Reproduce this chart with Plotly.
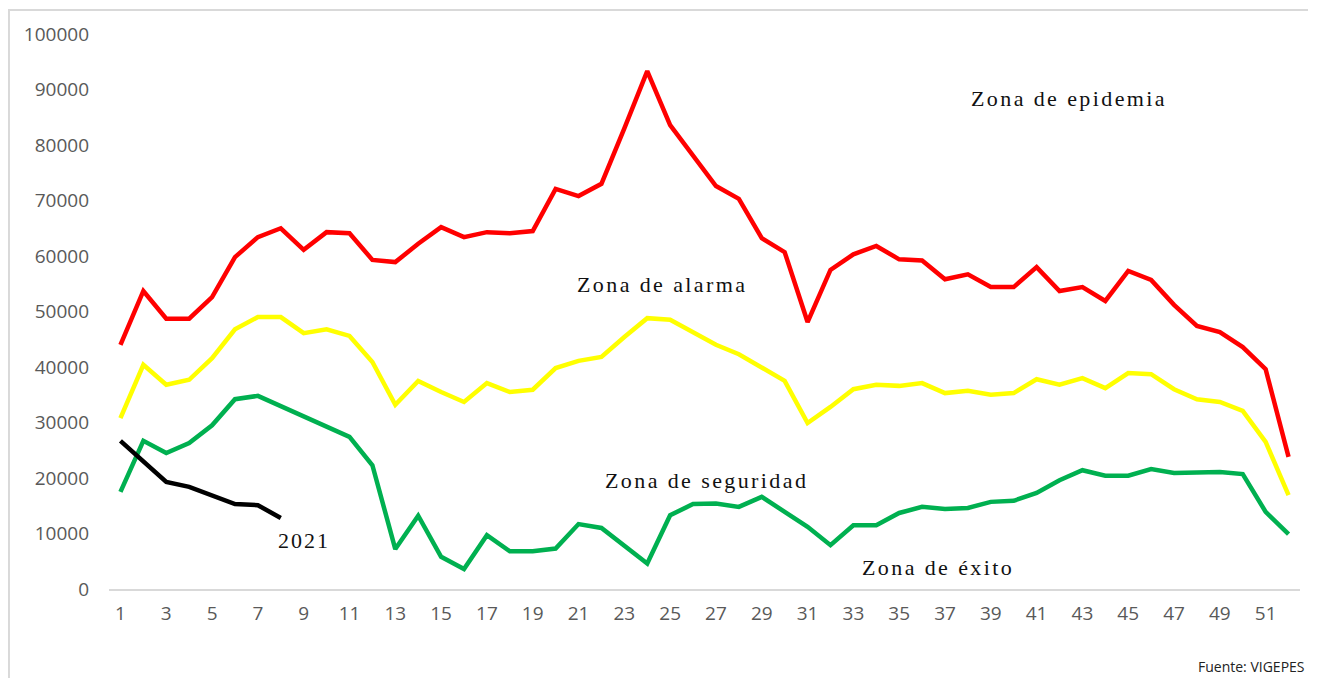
import plotly.graph_objects as go

weeks = list(range(1, 53))

epidemia = [44000, 53700, 48700, 48700, 52600, 59800, 63400, 65000, 61100, 64300,
            64100, 59300, 58900, 62200, 65200, 63400, 64300, 64100, 64500, 72100,
            70800, 73000, 83000, 93300, 83600, 78200, 72600, 70300, 63200, 60700,
            48100, 57500, 60300, 61800, 59400, 59200, 55800, 56700, 54400, 54400,
            58000, 53700, 54400, 51900, 57300, 55700, 51200, 47400, 46300, 43600,
            39600, 23800]

alarma = [30800, 40400, 36800, 37700, 41600, 46800, 49000, 49000, 46100, 46800,
          45600, 40900, 33200, 37500, 35500, 33700, 37100, 35500, 35900, 39800,
          41100, 41800, 45400, 48800, 48500, 46300, 44000, 42300, 40000, 37500,
          29900, 32800, 36000, 36800, 36600, 37100, 35300, 35700, 35000, 35300,
          37800, 36800, 38000, 36200, 38900, 38700, 36000, 34200, 33700, 32100,
          26500, 16900]

seguridad = [17500, 26700, 24500, 26300, 29500, 34200, 34800, 33000, 31000, 29300,
             27400, 22300, 7200, 13200, 5800, 3600, 9700, 6800, 6800, 7300,
             11700, 11000, 7700, 4600, 13300, 15300, 15400, 14800, 16600, 13900,
             11200, 7900, 11500, 11500, 13700, 14800, 14400, 14600, 15700, 15900,
             17300, 19600, 21400, 20400, 20400, 21600, 20900, 21000, 21100, 20700,
             13900, 9900]

weeks_2021 = list(range(1, 9))
y2021 = [26700, 22900, 19300, 18400, 16900, 15300, 15100, 12800]

x_ticks = list(range(1, 53, 2))
y_ticks = list(range(0, 100001, 10000))

fig = go.Figure()
fig.add_trace(go.Scatter(x=weeks, y=epidemia, mode="lines", name="Epidemia",
                         line=dict(color="#FF0000", width=4.5)))
fig.add_trace(go.Scatter(x=weeks, y=alarma, mode="lines", name="Alarma",
                         line=dict(color="#FFFF00", width=4.5)))
fig.add_trace(go.Scatter(x=weeks, y=seguridad, mode="lines", name="Seguridad",
                         line=dict(color="#00B050", width=4.5)))
fig.add_trace(go.Scatter(x=weeks_2021, y=y2021, mode="lines", name="2021",
                         line=dict(color="#000000", width=4.5)))

serif = dict(family="Liberation Serif, serif", size=22, color="#111111")
notes = [
    ("Zona de epidemia", 42.4, 88300, 2.4),
    ("Zona de alarma", 24.65, 54800, 2.4),
    ("Zona de seguridad", 26.6, 19600, 2.4),
    ("Zona de éxito", 36.7, 3800, 2.4),
    ("2021", 9.0, 8700, 2.0),
]
for txt, xx, yy, ls in notes:
    fig.add_annotation(x=xx, y=yy,
                       text=f'<span style="letter-spacing:{ls}px">{txt}</span>',
                       showarrow=False, font=serif,
                       xanchor="center", yanchor="middle")

fig.add_annotation(x=1.0055, y=-0.1405, xref="paper", yref="paper",
                   text="Fuente: VIGEPES", showarrow=False,
                   xanchor="right", yanchor="middle",
                   font=dict(family="Open Sans, sans-serif", size=14, color="#222222"))

fig.add_shape(type="path", xref="paper", yref="paper",
              path="M -0.0840,-0.3 L -0.0840,1.0432 L 1.2,1.0432",
              line=dict(color="#D9D9D9", width=2), layer="below")

fig.update_layout(
    width=1300, height=670,
    margin=dict(l=101, r=8, t=26, b=89),
    paper_bgcolor="white", plot_bgcolor="white",
    showlegend=False,
    xaxis=dict(range=[0.5, 52.5], tickvals=x_ticks, showgrid=False, zeroline=False,
               showline=True, linecolor="#D9D9D9", linewidth=2,
               ticks="", ticklabelstandoff=6,
               tickfont=dict(family="Open Sans, sans-serif", size=19, color="#595959")),
    yaxis=dict(range=[0, 100000], tickvals=y_ticks, tickformat="d",
               showgrid=False, zeroline=False,
               showline=False, ticks="", ticklabelstandoff=19,
               tickfont=dict(family="Open Sans, sans-serif", size=19, color="#595959")),
)

fig.write_html("out.html")
